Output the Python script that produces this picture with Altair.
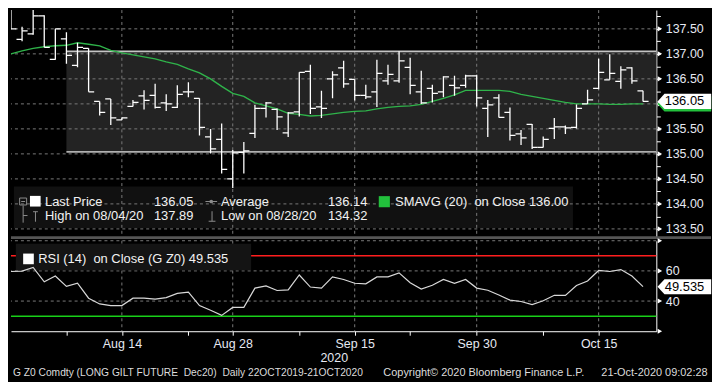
import altair as alt
import pandas as pd

# ---------------- values ----------------
# trading days 31 Jul 2020 .. 21 Oct 2020 (index 0..57)
bar_index = list(range(58))
opens = [137.85, 137.29, 137.40, 137.76, 136.89, 137.30, 136.77, 137.11, 136.05, 136.10,
         135.68, 135.95, 136.16, 136.17, 136.02, 135.93, 136.24, 136.11, 135.34, 135.29,
         134.50, 135.03, 135.41, 135.91, 135.89, 135.42, 135.84, 136.65, 135.94, 136.50,
         136.72, 136.49, 136.17, 136.24, 136.46, 136.46, 136.73, 136.24, 136.31, 136.24,
         136.37, 136.37, 136.56, 135.91, 136.12, 135.83, 135.40, 135.59, 135.13, 135.51,
         135.54, 135.53, 136.00, 136.31, 136.48, 136.45, 136.72, 136.26]
highs = [137.95, 137.54, 137.89, 137.77, 137.50, 137.43, 137.22, 137.11, 136.05, 136.10,
         135.73, 136.08, 136.27, 136.40, 136.19, 136.37, 136.43, 136.11, 135.50, 135.61,
         135.08, 135.24, 135.98, 136.04, 135.91, 135.84, 136.63, 136.78, 136.26, 136.65,
         136.86, 136.49, 136.38, 136.88, 136.78, 137.05, 136.92, 136.66, 136.38, 136.55,
         136.56, 136.58, 136.58, 136.08, 136.19, 135.93, 135.48, 135.60, 135.35, 135.72,
         135.57, 135.99, 136.28, 136.90, 136.99, 136.75, 136.73, 136.26]
lows = [137.50, 137.25, 137.38, 137.13, 136.88, 136.80, 136.73, 136.24, 135.77, 135.58,
        135.68, 135.95, 135.89, 135.91, 135.86, 135.92, 136.13, 135.37, 135.01, 134.61,
        134.32, 134.61, 135.32, 135.73, 135.48, 135.34, 135.75, 135.80, 135.72, 136.11,
        136.32, 136.07, 136.10, 135.94, 136.38, 136.42, 136.19, 136.00, 136.03, 136.13,
        136.16, 136.32, 135.95, 135.34, 135.73, 135.27, 135.18, 135.10, 135.13, 135.30,
        135.40, 135.51, 136.00, 136.29, 136.48, 136.30, 136.40, 136.05]
closes = [137.50, 137.46, 137.76, 137.13, 137.50, 136.97, 137.13, 136.24, 135.83, 135.72,
          135.72, 136.03, 136.07, 135.93, 136.00, 136.19, 136.24, 135.53, 135.10, 134.69,
          135.02, 135.06, 135.91, 136.02, 135.74, 135.82, 136.63, 135.91, 135.91, 136.58,
          136.40, 136.17, 136.14, 136.61, 136.59, 136.86, 136.37, 136.02, 136.21, 136.54,
          136.32, 136.56, 136.12, 135.98, 135.73, 135.37, 135.32, 135.13, 135.29, 135.54,
          135.52, 135.91, 136.08, 136.63, 136.61, 136.68, 136.46, 136.05]
sma20 = [137.00, 137.06, 137.11, 137.14, 137.16, 137.17, 137.22, 137.19, 137.16, 137.07,
         137.02, 136.98, 136.94, 136.90, 136.84, 136.79, 136.70, 136.62, 136.50, 136.35,
         136.21, 136.15, 136.02, 135.96, 135.90, 135.81, 135.79, 135.76, 135.77, 135.80,
         135.83, 135.85, 135.86, 135.90, 135.93, 135.95, 135.96, 135.99, 136.05, 136.11,
         136.18, 136.27, 136.27, 136.27, 136.27, 136.25, 136.19, 136.15, 136.11, 136.07,
         136.03, 136.00, 136.00, 136.00, 135.99, 135.99, 136.00, 136.00]
rsi14 = [59.6, 59.9, 62.3, 52.8, 56.6, 49.7, 51.8, 41.9, 38.1, 37.0,
         37.0, 41.9, 41.9, 41.3, 42.3, 45.1, 45.9, 37.0, 33.9, 30.5,
         35.8, 35.8, 48.6, 50.1, 47.0, 47.4, 57.3, 49.3, 48.6, 56.0,
         54.3, 51.8, 51.4, 56.0, 56.0, 58.7, 52.2, 48.0, 50.5, 54.3,
         51.8, 54.3, 48.6, 47.2, 44.0, 40.6, 39.7, 37.7, 40.2, 43.8,
         43.8, 50.3, 53.3, 60.3, 59.6, 60.9, 56.6, 49.535]

x_major_idx = [10, 20, 31, 42, 53]
x_major_lab = ["Aug 14", "Aug 28", "Sep 15", "Sep 30", "Oct 15"]
x_minor_idx = [5, 16, 26, 36, 48]
year_label = "2020"

price_ticks = [133.50, 133.75, 134.00, 134.25, 134.50, 134.75, 135.00, 135.25, 135.50,
               135.75, 136.00, 136.25, 136.50, 136.75, 137.00, 137.25, 137.50, 137.75]
price_grid = [133.50, 134.00, 134.50, 135.00, 135.50, 136.00, 136.50, 137.00, 137.50]
price_labels = [133.50, 134.00, 134.50, 135.00, 135.50, 136.50, 137.00, 137.50]  # 136.00 sits under the tag
rsi_ticks = [20, 40, 60, 80]
rsi_labels = [40, 60]
rsi_grid = [40, 60, 80]
rsi_upper = [70]
rsi_lower = [30]

channel_start = [5]
channel_top = [137.05]
channel_bottom = [135.04]

last_price = [136.05]
sma_last = [136.00]
rsi_last = [49.535]
average_price = "136.14"
high_date, high_val = "08/04/20", "137.89"
low_date, low_val = "08/28/20", "134.32"

NB2 = "\u00a0 "
footer_left = f"G Z0 Comdty (LONG GILT FUTURE{NB2}Dec20){NB2}Daily 22OCT2019-21OCT2020"
footer_mid = "Copyright\u00a9 2020 Bloomberg Finance L.P."
footer_right = "21-Oct-2020 09:02:28"

# ---------------- layout & style ----------------
SX = 704 / 720
SY = 373 / 389
W, H1, H2, GAP = 649, 228, 91, 4
OY = H1 + GAP
X_DOMAIN = [0, 58.2]
P_DOMAIN = [133.343, 137.876]
R_DOMAIN = [20, 80]

FONT = "Liberation Sans"
TXT = "#f2f2f2"
AX_TXT = "#e6e9f2"
GRID = "#7a7a7a"
ICON = "#8c8c8c"
GREEN_LINE = "#2fb34a"
GREEN_BOX = "#22c03c"
TAG_PATH = "M-1,0L-0.74,-0.28L1,-0.28L1,0.28L-0.74,0.28Z"

one = pd.DataFrame({"k": [0]})


def px(x):
    return x * SX


def py(y, panel=0):
    return y * SY - panel


def label(s, x, y, panel=0, size=13, color=TXT, align="left"):
    return alt.Chart(one).mark_text(align=align, baseline="middle", font=FONT,
                                    fontSize=size, color=color).encode(
        x=alt.value(px(x)), y=alt.value(py(y, panel)), text=alt.value(s))


def seg(x1, x2, y1, y2, panel=0, color=ICON, width=1.0):
    return alt.Chart(one).mark_rule(color=color, strokeWidth=width).encode(
        x=alt.value(px(x1)), x2=alt.value(px(x2)),
        y=alt.value(py(y1, panel)), y2=alt.value(py(y2, panel)))


def box(x1, x2, y1, y2, panel=0, color="#111111", opacity=1.0):
    return alt.Chart(one).mark_rect(color=color, opacity=opacity).encode(
        x=alt.value(px(x1)), x2=alt.value(px(x2)),
        y=alt.value(py(y1, panel)), y2=alt.value(py(y2, panel)))


def square(x, y, color, size, panel=0, filled=True):
    return alt.Chart(one).mark_point(shape="square", filled=filled, color=color,
                                     size=size, opacity=1, strokeWidth=1).encode(
        x=alt.value(px(x)), y=alt.value(py(y, panel)))


xs = alt.Scale(domain=X_DOMAIN, nice=False, zero=False)
ps = alt.Scale(domain=P_DOMAIN, nice=False, zero=False)
rs = alt.Scale(domain=R_DOMAIN, nice=False, zero=False)

p_label_expr = ("indexof([" + ",".join(str(v) for v in price_labels) +
                "], datum.value) >= 0 ? format(datum.value, '.2f') : ''")
p_axis = alt.Axis(orient="right", values=price_ticks, labelExpr=p_label_expr, title=None,
                  grid=False, domainColor="#ffffff", domainWidth=1, tickColor="#ffffff",
                  tickSize=4, tickWidth=1, labelColor=AX_TXT, labelFont=FONT,
                  labelFontSize=12.5, labelPadding=5, labelOverlap=False)

r_label_expr = ("indexof([" + ",".join(str(v) for v in rsi_labels) +
                "], datum.value) >= 0 ? format(datum.value, 'd') : ''")
r_axis = alt.Axis(orient="right", values=rsi_ticks, labelExpr=r_label_expr, title=None,
                  grid=False, domainColor="#ffffff", domainWidth=1, tickOpacity=0,
                  tickSize=4, labelColor=AX_TXT, labelFont=FONT, labelFontSize=12.5,
                  labelPadding=5, labelOverlap=False)

x_expr = "''"
for v, s in zip(reversed(x_major_idx), reversed(x_major_lab)):
    x_expr = f"datum.value == {v} ? '{s}' : ({x_expr})"
x_axis = alt.Axis(values=sorted(x_major_idx + x_minor_idx), labelExpr=x_expr, title=None,
                  grid=False, domainColor="#ffffff", domainWidth=1, tickColor="#ffffff",
                  tickSize=4, labelColor=AX_TXT, labelFont=FONT, labelFontSize=12.5,
                  labelPadding=2, labelBaseline="top", labelFlush=False, labelOverlap=False)


def PX(f):
    return alt.X(f, type="quantitative", scale=xs, axis=None)


def PY(f):
    return alt.Y(f, type="quantitative", scale=ps, axis=p_axis)


def RX(f):
    return alt.X(f, type="quantitative", scale=xs, axis=x_axis)


def RY(f):
    return alt.Y(f, type="quantitative", scale=rs, axis=r_axis)


# ---------------- price panel ----------------
ohlc = pd.DataFrame({"i": bar_index, "open": opens, "high": highs, "low": lows,
                     "close": closes, "sma": sma20})
chan = pd.DataFrame({"start": channel_start, "top": channel_top, "bottom": channel_bottom})

channel_rect = alt.Chart(chan).mark_rect(color="#232323").encode(
    x=PX("start"), x2=alt.value(W), y=PY("top"), y2="bottom")
legend_box = box(3, 578, 185, 228.5, color="#111111")
hgrid = alt.Chart(pd.DataFrame({"g": price_grid})).mark_rule(
    color=GRID, strokeDash=[3, 3], strokeWidth=1).encode(y=PY("g"))
vgrid = alt.Chart(pd.DataFrame({"g": x_major_idx})).mark_rule(
    color=GRID, strokeDash=[3, 3], strokeWidth=1).encode(x=PX("g"))
chan_top = alt.Chart(chan).mark_rule(color="#c4c4c4", strokeWidth=1.6).encode(
    x=PX("start"), x2=alt.value(W), y=PY("top"))
chan_bot = alt.Chart(chan).mark_rule(color="#b0b0b0", strokeWidth=1.6).encode(
    x=PX("start"), x2=alt.value(W), y=PY("bottom"))
sma_line = alt.Chart(ohlc).mark_line(color=GREEN_LINE, strokeWidth=1.5, clip=True).encode(
    x=PX("i"), y=PY("sma"))
hl = alt.Chart(ohlc).mark_rule(color="#ffffff", strokeWidth=1.3, clip=True).encode(
    x=PX("i"), y=PY("low"), y2="high")
op = alt.Chart(ohlc).mark_tick(orient="horizontal", color="#ffffff", size=5.6, thickness=1.3,
                               xOffset=-2.8, opacity=1, clip=True).encode(x=PX("i"), y=PY("open"))
cl = alt.Chart(ohlc).mark_tick(orient="horizontal", color="#ffffff", size=5.6, thickness=1.3,
                               xOffset=2.8, opacity=1, clip=True).encode(x=PX("i"), y=PY("close"))

tri_p = alt.Chart(pd.DataFrame({"v": price_grid})).mark_point(
    shape="triangle-right", filled=True, color="#ffffff", size=26, opacity=1).encode(
    x=alt.value(W + 3.6), y=PY("v"))
tag_sma = alt.Chart(pd.DataFrame({"v": sma_last})).mark_point(
    shape=TAG_PATH, filled=True, color=GREEN_BOX, size=2916, opacity=1, strokeWidth=0).encode(
    x=alt.value(W + 28.2), y=PY("v"))
tag_last = alt.Chart(pd.DataFrame({"v": last_price})).mark_point(
    shape=TAG_PATH, filled=True, color="#ffffff", size=2916, opacity=1, strokeWidth=0).encode(
    x=alt.value(W + 28.2), y=PY("v"))
tag_last_txt = alt.Chart(pd.DataFrame({"v": last_price})).mark_text(
    align="left", baseline="middle", font=FONT, fontSize=13, color="#000000").encode(
    x=alt.value(W + 8.5), y=PY("v"), text=alt.Text("v:Q", format=".2f"))

separator = box(0, 720, 237.3, 240.2, color="#555555")

r1, r2 = 201.5, 216.5
legend_items = [
    square(12.5, 200.8, ICON, 49, filled=False),
    seg(10.5, 14.5, 200.8, 200.8),
    seg(12.5, 12.5, 205, 223),
    seg(12.5, 17, 215.5, 215.5),
    seg(22.7, 27.7, 211.5, 211.5),
    seg(25.2, 25.2, 211.5, 222),
    square(25, 200.5, "#ffffff", 115),
    label("Last Price", 35, r1),
    label(f"{last_price[0]:.2f}", 147, r1),
    seg(200, 212, 200.8, 200.8),
    alt.Chart(one).mark_point(shape="circle", filled=True, color=ICON, size=14, opacity=1).encode(
        x=alt.value(px(206)), y=alt.value(py(200.8))),
    label("Average", 216, r1),
    label(average_price, 326, r1),
    square(384, 201, GREEN_BOX, 125),
    label(f"SMAVG (20){NB2}on Close {sma_last[0]:.2f}", 395, r1),
    label(f"High on {high_date}", 35, r2),
    label(high_val, 147, r2),
    seg(206.8, 206.8, 211, 221.5),
    seg(203.3, 210.3, 221.5, 221.5),
    label(f"Low on {low_date}", 216, r2),
    label(low_val, 326, r2),
]

price = alt.layer(
    channel_rect, legend_box, hgrid, vgrid, chan_top, chan_bot, sma_line, hl, op, cl,
    *legend_items, separator, tri_p, tag_sma, tag_last, tag_last_txt
).properties(width=W, height=H1)

# ---------------- RSI panel ----------------
rsi_df = pd.DataFrame({"i": bar_index, "rsi": rsi14})

frame = alt.Chart(one).mark_rect(opacity=0).encode(
    x=alt.value(0), x2=alt.value(704), y=alt.value(-OY), y2=alt.value(373 - OY))
r_hgrid = alt.Chart(pd.DataFrame({"g": rsi_grid})).mark_rule(
    color=GRID, strokeDash=[3, 3], strokeWidth=1).encode(y=RY("g"))
r_vgrid = alt.Chart(pd.DataFrame({"g": x_major_idx})).mark_rule(
    color=GRID, strokeDash=[3, 3], strokeWidth=1).encode(x=RX("g"))
upper = alt.Chart(pd.DataFrame({"v": rsi_upper})).mark_rule(
    color="#ff1e1e", strokeWidth=1.5).encode(y=RY("v"))
lower = alt.Chart(pd.DataFrame({"v": rsi_lower})).mark_rule(
    color="#18d018", strokeWidth=1.5).encode(y=RY("v"))
rsi_box = box(5, 247, 245, 273, panel=OY, color="#141414")
rsi_line = alt.Chart(rsi_df).mark_line(color="#d8d8d8", strokeWidth=1.2).encode(
    x=RX("i"), y=RY("rsi"))
tri_r = alt.Chart(pd.DataFrame({"v": rsi_ticks})).mark_point(
    shape="triangle-right", filled=True, color="#ffffff", size=26, opacity=1).encode(
    x=alt.value(W + 3.6), y=RY("v"))
tag_rsi = alt.Chart(pd.DataFrame({"v": rsi_last})).mark_point(
    shape=TAG_PATH, filled=True, color="#ffffff", size=2916, opacity=1, strokeWidth=0).encode(
    x=alt.value(W + 28.2), y=RY("v"))
tag_rsi_txt = alt.Chart(pd.DataFrame({"v": rsi_last})).mark_text(
    align="left", baseline="middle", font=FONT, fontSize=13, color="#000000").encode(
    x=alt.value(W + 8.5), y=RY("v"), text=alt.Text("v:Q", format=".3f"))

rsi_items = [
    square(18, 261, "#ffffff", 115, panel=OY),
    label(f"RSI (14){NB2}on Close (G Z0) {rsi_last[0]:.3f}", 28, 261.5, panel=OY),
    label(year_label, 332.5, 364.5, panel=OY, size=12.5, color=AX_TXT, align="center"),
    label(footer_left, 2, 380.5, panel=OY, size=10.3, color="#dcdcdc"),
    label(footer_mid, 383, 380.5, panel=OY, size=11, color="#dcdcdc"),
    label(footer_right, 716.5, 380.5, panel=OY, size=11, color="#dcdcdc", align="right"),
]

rsi = alt.layer(
    frame, r_hgrid, r_vgrid, upper, lower, rsi_box, rsi_line, tri_r, tag_rsi, tag_rsi_txt,
    *rsi_items
).properties(width=W, height=H2)

chart = alt.vconcat(price, rsi, spacing=GAP, bounds="flush").properties(
    padding=0, background="#000000"
).configure_view(strokeWidth=0)

chart.save("out.html", embed_options={"renderer": "svg", "actions": False})
